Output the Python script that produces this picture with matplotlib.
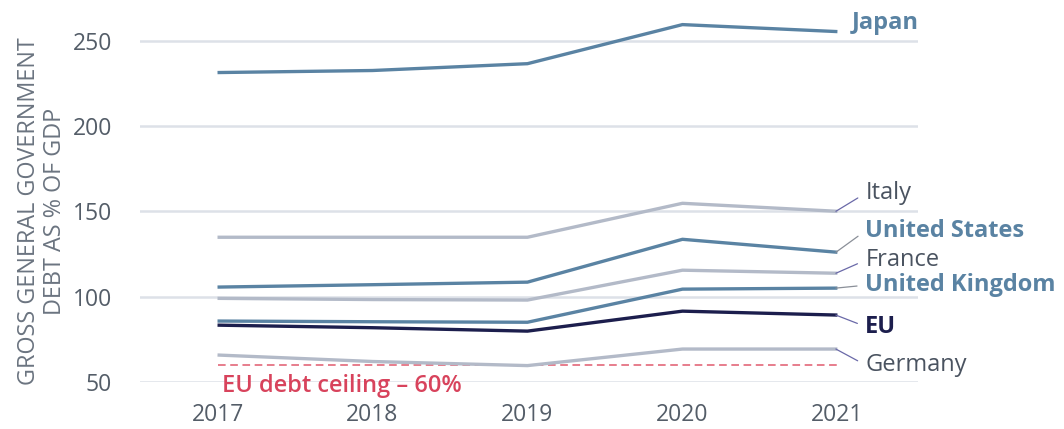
import matplotlib
matplotlib.use("Agg")
import matplotlib.pyplot as plt

plt.rcParams['font.family'] = ['Open Sans', 'DejaVu Sans']

# ==============================================================================
# Data: gross general government debt, % of GDP
# ==============================================================================
years = [2017, 2018, 2019, 2020, 2021]

japan = [231.3, 232.5, 236.5, 259.4, 255.3]
italy = [134.8, 134.8, 134.8, 154.7, 150.0]
united_states = [105.6, 107.0, 108.5, 133.6, 126.0]
france = [99.0, 98.3, 98.0, 115.5, 113.7]
united_kingdom = [85.7, 85.3, 85.0, 104.4, 105.0]
eu = [83.3, 81.8, 79.8, 91.5, 89.2]
germany = [65.8, 62.0, 59.6, 69.3, 69.3]

eu_ceiling = 60

# ==============================================================================
# Styles
# ==============================================================================
blue = '#5a83a3'
grey = '#b3bac8'
navy = '#1c1e4d'
red = '#e05a6e'
purple = '#6a69a8'
lgrey = '#8a8f98'
txt = '#4a5360'

series = [
    # name, values, line colour, text colour, bold, label y, label x, leader colour
    ('Japan', japan, blue, blue, True, 260.5, 2021.09, None),
    ('Italy', italy, grey, txt, False, 160.5, 2021.18, purple),
    ('United States', united_states, blue, blue, True, 138.5, 2021.18, lgrey),
    ('France', france, grey, txt, False, 121.3, 2021.18, purple),
    ('United Kingdom', united_kingdom, blue, blue, True, 106.7, 2021.18, lgrey),
    ('EU', eu, navy, navy, True, 82.5, 2021.18, purple),
    ('Germany', germany, grey, txt, False, 60.0, 2021.18, purple),
]

fig = plt.figure(figsize=(10.64, 4.29), dpi=100)
ax = fig.add_axes([0.1316, 0.1096, 0.7312, 0.8434])

# EU debt ceiling
ax.axhline(eu_ceiling, xmin=0.1, xmax=0.9, color=red, lw=1.1, ls=(0, (5, 3)), zorder=2)
ax.text(2017.03, 47.5, 'EU debt ceiling \u2013 60%', color='#d8435c', fontsize=17,
        fontweight='semibold', ha='left', va='center', clip_on=False)

for name, vals, lc, tc, bold, ly, lx, ldc in series:
    ax.plot(years, vals, color=lc, lw=2.4, solid_capstyle='butt', zorder=3, clip_on=False)
    weight = 'bold' if bold else 'normal'
    if ldc is None:
        ax.text(lx, ly, name, color=tc, fontsize=17, fontweight=weight,
                ha='left', va='center', clip_on=False)
    else:
        ax.annotate(name, xy=(years[-1] - 0.01, vals[-1]), xytext=(lx, ly),
                    color=tc, fontsize=17, fontweight=weight,
                    ha='left', va='center', annotation_clip=False,
                    arrowprops=dict(arrowstyle='-', color=ldc, lw=0.9,
                                    shrinkA=4, shrinkB=0, relpos=(0, 0.5)))

ax.set_xlim(2016.5, 2021.52)
ax.set_ylim(50, 262)
ax.set_xticks(years)
ax.set_yticks([50, 100, 150, 200, 250])
ax.grid(axis='y', color='#dde1e8', lw=1.8)
ax.set_axisbelow(True)
for s in ax.spines.values():
    s.set_visible(False)
ax.tick_params(length=0, labelsize=16.5, labelcolor='#545d68')
ax.tick_params(axis='x', pad=15)
ax.tick_params(axis='y', pad=20)

ax.set_ylabel('GROSS GENERAL GOVERNMENT\nDEBT AS % OF GDP', fontsize=16.8, color='#6b7480',
              linespacing=1.1)
ax.yaxis.set_label_coords(-0.094, 0.472)

fig.savefig('out.png', dpi=100)
